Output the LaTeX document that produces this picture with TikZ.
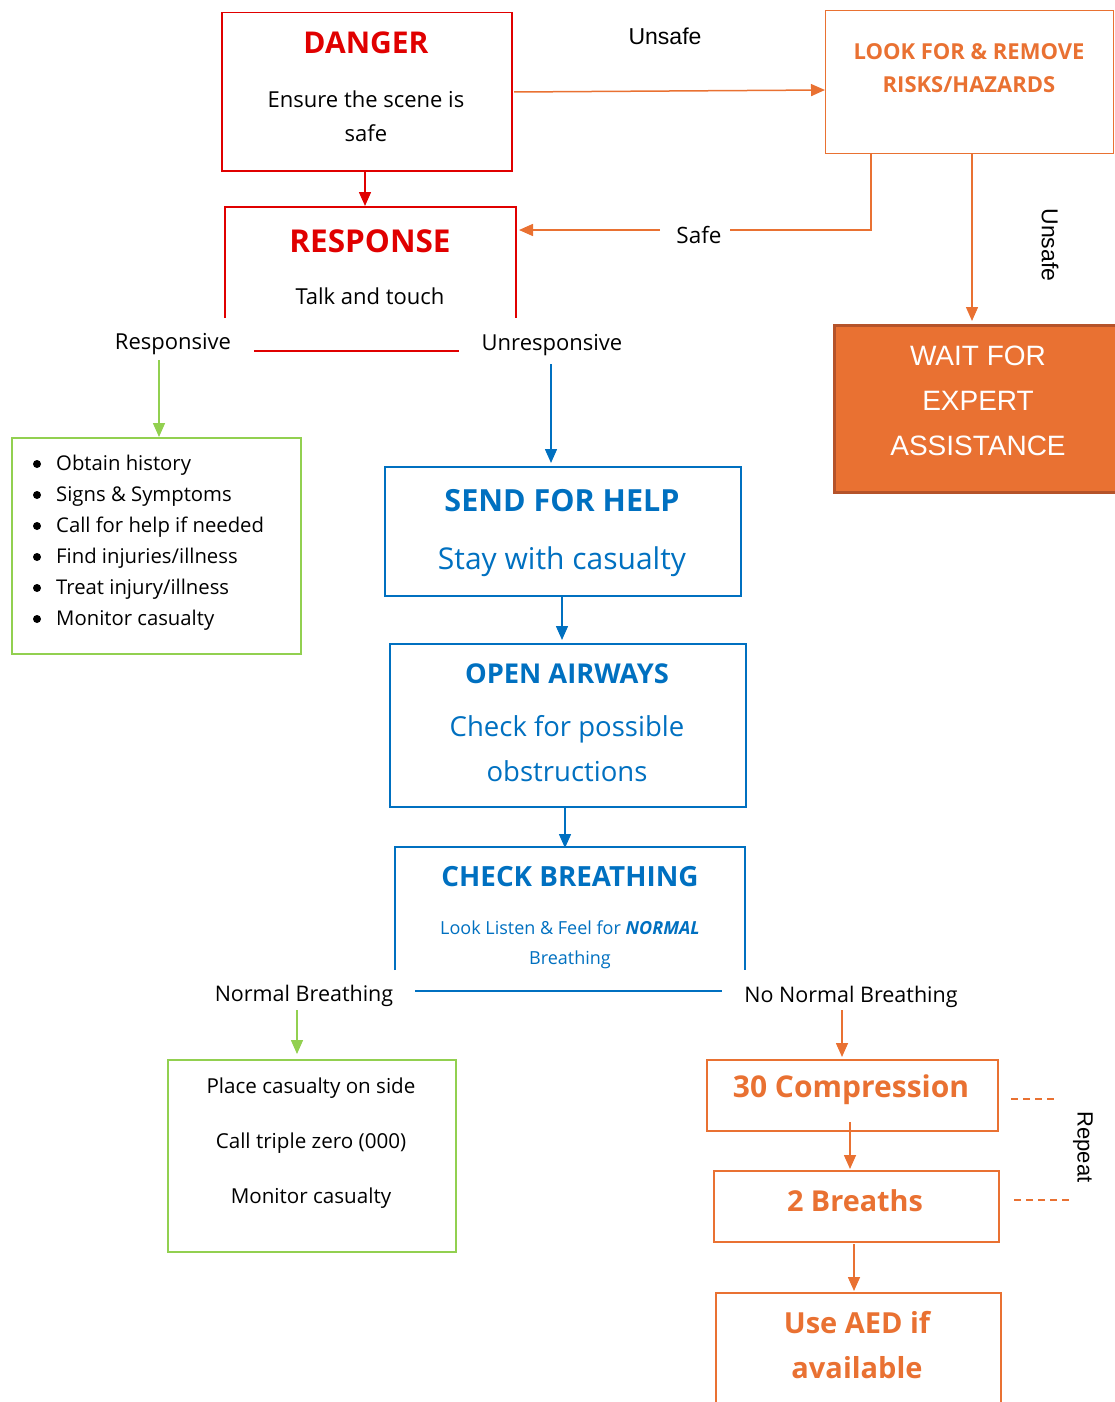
\documentclass[tikz,border=0pt]{standalone}
\usepackage{fontspec}
\setmainfont{Open Sans}
\newfontfamily\arialf{Liberation Sans}
\usetikzlibrary{arrows.meta}
\definecolor{cred}{HTML}{E00000}
\definecolor{cblue}{HTML}{0070C0}
\definecolor{cgreen}{HTML}{92D050}
\definecolor{corange}{HTML}{E97132}
\definecolor{cdkorange}{HTML}{B5532A}
\begin{document}
\begin{tikzpicture}[x=1pt,y=-1pt,
  boxr/.style={draw=cred,line width=1.5pt,anchor=north west,inner sep=0},
  boxb/.style={draw=cblue,line width=1.5pt,anchor=north west,inner sep=0},
  boxg/.style={draw=cgreen,line width=1.5pt,anchor=north west,inner sep=0},
  boxo/.style={draw=corange,line width=1.5pt,anchor=north west,inner sep=0},
  lbl/.style={inner sep=0,font=\fontsize{21.5}{24}\selectfont},
  arr/.style={line width=1.5pt,-{Triangle[length=14pt,width=12pt]}},
  ln/.style={line width=1.5pt}]
\useasboundingbox (0,0) rectangle (1114,1402);

% DANGER
\node[boxr,minimum width=290,minimum height=158] (danger) at (221,12) {};
\node[inner sep=0,text=cred,font=\fontsize{30}{32}\selectfont\bfseries] (dt) at (366,43) {DANGER};
\node[lbl,align=center,font=\fontsize{22}{34}\selectfont] (ds) at (366,116) {Ensure the scene is\\safe};

% RESPONSE (open bottom)
\coordinate (rbl) at (225,318); \coordinate (rtl) at (225,207);
\coordinate (rtr) at (516,207); \coordinate (rbr) at (516,318);
\draw[ln,cred] (rbl) -- (rtl) -- (rtr) -- (rbr);
\node[inner sep=0,text=cred,font=\fontsize{31.5}{32}\selectfont\bfseries] (rt) at (370,241) {RESPONSE};
\node[lbl,font=\fontsize{22}{24}\selectfont] (rs) at (370,296) {Talk and touch};
\draw[arr,cred] (danger.south -| 365,0) -- (365,206);

\node[lbl,font=\fontsize{22}{24}\selectfont] (resp) at (173,344) {Responsive};
\node[lbl,font=\fontsize{22}{24}\selectfont] (unresp) at (552,345) {Unresponsive};
\coordinate (rl1) at (254,351); \coordinate (rl2) at (459,351);
\draw[ln,cred] (rl1) -- (rl2);

% Responsive list
\node[boxg,minimum width=289,minimum height=216] (glist) at (11,437) {};
\foreach \t [count=\i from 0] in {Obtain history,Signs \& Symptoms,Call for help if needed,Find injuries/illness,Treat injury/illness,Monitor casualty}{
  \fill (37,464+31*\i) circle (4);
  \node[lbl,anchor=west,font=\fontsize{20.3}{24}\selectfont] (li\i) at (56,465+31*\i) {\t};
}
\coordinate (ga1) at (159,360);
\draw[arr,cgreen] (ga1) -- (glist.north -| ga1);

% UNSAFE top
\node[lbl,font=\arialf\fontsize{23}{24}\selectfont] (unsafe1) at (665,36) {Unsafe};
\node[boxo,line width=1.2pt,minimum width=288,minimum height=143] (look) at (825,10) {};
\node[inner sep=0,align=center,text=corange,font=\fontsize{22}{33}\selectfont\bfseries] (lookt) at (969,68) {LOOK FOR \& REMOVE\\RISKS/HAZARDS};
\coordinate (ua1) at (514,92);
\draw[arr,corange] (ua1) -- (look.west |- 0,90);

% Safe
\coordinate (s1) at (871,153); \coordinate (s2) at (871,230); \coordinate (s3) at (730,230);
\coordinate (s4) at (660,230);
\draw[ln,corange,line width=1.2pt] (s1) -- (s2) -- (s3);
\node[lbl,font=\fontsize{22.5}{24}\selectfont] (safe) at (699,235) {Safe};
\draw[arr,corange] (s4) -- (519,230);

% Unsafe down
\node[boxo,fill=corange,draw=cdkorange,line width=2.5pt,minimum width=290,minimum height=167] (wait) at (833,324) {};
\node[inner sep=0,align=center,text=white,font=\arialf\fontsize{28}{45}\selectfont] (waitt) at (978,401) {WAIT FOR\\EXPERT\\ASSISTANCE};
\draw[arr,corange] (972,153) -- (972,321);
\node[lbl,rotate=-90,font=\arialf\fontsize{23}{24}\selectfont] (unsafe2) at (1050,245) {Unsafe};

% SEND FOR HELP
\node[boxb,minimum width=356,minimum height=129] (send) at (384,466) {};
\node[inner sep=0,text=cblue,font=\fontsize{30.5}{32}\selectfont\bfseries] (sendt) at (562,501) {SEND FOR HELP};
\node[inner sep=0,text=cblue,font=\fontsize{30}{34}\selectfont] (sends) at (562,562) {Stay with casualty};
\draw[arr,cblue] (551,364) -- (551,463);

% OPEN AIRWAYS
\node[boxb,minimum width=356,minimum height=163] (open) at (389,643) {};
\node[inner sep=0,text=cblue,font=\fontsize{27.3}{32}\selectfont\bfseries] (opent) at (567,674) {OPEN AIRWAYS};
\node[inner sep=0,align=center,text=cblue,font=\fontsize{27.5}{45}\selectfont] (opens) at (567,749) {Check for possible\\obstructions};
\draw[arr,cblue] (562,597) -- (562,640);

% CHECK BREATHING (open bottom)
\coordinate (cbl) at (395,970); \coordinate (ctl) at (395,847);
\coordinate (ctr) at (745,847); \coordinate (cbr) at (745,970);
\draw[ln,cblue] (cbl) -- (ctl) -- (ctr) -- (cbr);
\node[inner sep=0,text=cblue,font=\fontsize{27.8}{32}\selectfont\bfseries] (cbt) at (570,877) {CHECK BREATHING};
\node[inner sep=0,align=center,text=cblue,font=\fontsize{18}{30}\selectfont] (cbs) at (570,945) {Look Listen \& Feel for \textbf{\textit{NORMAL}}\\Breathing};
\draw[arr,cblue] (565,807) -- (565,848);

\node[lbl] (nb) at (304,996) {Normal Breathing};
\node[lbl] (nnb) at (851,997) {No Normal Breathing};
\coordinate (bl1) at (415,991); \coordinate (bl2) at (722,991);
\draw[ln,cblue] (bl1) -- (bl2);

% Normal breathing box
\node[boxg,minimum width=288,minimum height=192] (place) at (167,1059) {};
\node[lbl,font=\fontsize{20.6}{24}\selectfont] (p1) at (311,1088) {Place casualty on side};
\node[lbl,font=\fontsize{20.6}{24}\selectfont] (p2) at (311,1143) {Call triple zero (000)};
\node[lbl,font=\fontsize{20.6}{24}\selectfont] (p3) at (311,1198) {Monitor casualty};
\draw[arr,cgreen] (297,1010) -- (297,1054);

% CPR
\node[boxo,minimum width=291,minimum height=71] (comp) at (706,1059) {};
\node[inner sep=0,text=corange,font=\fontsize{30}{32}\selectfont\bfseries] (compt) at (851,1090) {30 Compression};
\draw[arr,corange] (842,1010) -- (842,1057);
\node[boxo,minimum width=285,minimum height=71] (breaths) at (713,1170) {};
\node[inner sep=0,text=corange,font=\fontsize{28.8}{32}\selectfont\bfseries] (breathst) at (855,1201) {2 Breaths};
\draw[arr,corange] (850,1122) -- (850,1169);
\node[boxo,minimum width=285,minimum height=130] (aed) at (715,1292) {};
\node[inner sep=0,align=center,text=corange,font=\fontsize{29}{45}\selectfont\bfseries] (aedt) at (857,1345) {Use AED if\\available};
\draw[arr,corange] (854,1244) -- (854,1291);

\coordinate (d1) at (1011,1099); \coordinate (d2) at (1058,1099);
\coordinate (d3) at (1014,1200); \coordinate (d4) at (1073,1200);
\draw[corange,line width=1.2pt,dash pattern=on 7pt off 5pt] (d1) -- (d2);
\draw[corange,line width=1.2pt,dash pattern=on 7pt off 5pt] (d3) -- (d4);
\node[lbl,rotate=-90,font=\arialf\fontsize{22}{24}\selectfont] (rep) at (1083,1147) {Repeat};
\end{tikzpicture}
\end{document}
